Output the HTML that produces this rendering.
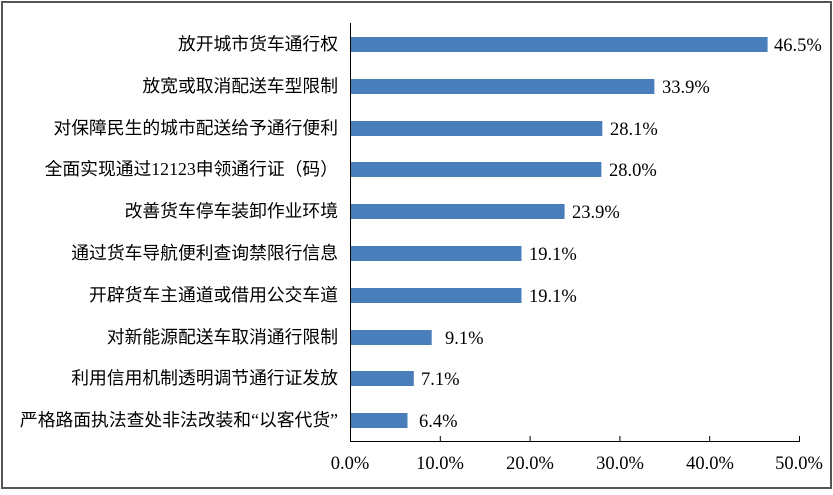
<!DOCTYPE html>
<html><head><meta charset="utf-8"><style>
body{margin:0;background:#fff;}
svg text{font-family:"Liberation Serif","Noto Sans CJK SC",serif;}
</style></head><body>
<svg width="833" height="490" xmlns="http://www.w3.org/2000/svg">
<rect x="2" y="2" width="829" height="486" fill="#fff" stroke="#555" stroke-width="2"/>
<g fill="#4a7ebb">
<rect x="350" y="37" width="417.6" height="15"/>
<rect x="350" y="79" width="304.4" height="15"/>
<rect x="350" y="121" width="252.3" height="15"/>
<rect x="350" y="162" width="251.4" height="15"/>
<rect x="350" y="204" width="214.6" height="15"/>
<rect x="350" y="246" width="171.5" height="15"/>
<rect x="350" y="288" width="171.5" height="15"/>
<rect x="350" y="330" width="81.7" height="15"/>
<rect x="350" y="371" width="63.8" height="15"/>
<rect x="350" y="413" width="57.5" height="15"/>
</g>
<g stroke="#000" stroke-width="1">
<line x1="350.5" y1="23" x2="350.5" y2="441"/>
<line x1="350" y1="441.5" x2="800" y2="441.5"/>
<line x1="440.3" y1="436" x2="440.3" y2="441"/>
<line x1="530.1" y1="436" x2="530.1" y2="441"/>
<line x1="619.9" y1="436" x2="619.9" y2="441"/>
<line x1="709.7" y1="436" x2="709.7" y2="441"/>
<line x1="799.5" y1="436" x2="799.5" y2="441"/>
</g>
<g font-size="18.5" fill="#000">
<text x="774" y="51">46.5%</text>
<text x="662" y="93">33.9%</text>
<text x="610" y="135">28.1%</text>
<text x="609" y="176">28.0%</text>
<text x="572" y="218">23.9%</text>
<text x="529" y="260">19.1%</text>
<text x="529" y="302">19.1%</text>
<text x="445" y="344">9.1%</text>
<text x="421" y="385">7.1%</text>
<text x="419" y="427">6.4%</text>
</g>
<g font-size="18.5" fill="#000" text-anchor="middle">
<text x="350" y="469">0.0%</text>
<text x="440" y="469">10.0%</text>
<text x="530" y="469">20.0%</text>
<text x="620" y="469">30.0%</text>
<text x="710" y="469">40.0%</text>
<text x="799" y="469">50.0%</text>
</g>
<g font-size="17.8" fill="#000" text-anchor="end">
<text x="338" y="50">放开城市货车通行权</text>
<text x="338" y="92">放宽或取消配送车型限制</text>
<text x="338" y="134">对保障民生的城市配送给予通行便利</text>
<text x="338" y="175">全面实现通过12123申领通行证（码）</text>
<text x="338" y="217">改善货车停车装卸作业环境</text>
<text x="338" y="259">通过货车导航便利查询禁限行信息</text>
<text x="338" y="301">开辟货车主通道或借用公交车道</text>
<text x="338" y="343">对新能源配送车取消通行限制</text>
<text x="338" y="384">利用信用机制透明调节通行证发放</text>
<text x="338" y="426">严格路面执法查处非法改装和“以客代货”</text>
</g>
</svg>
</body></html>
